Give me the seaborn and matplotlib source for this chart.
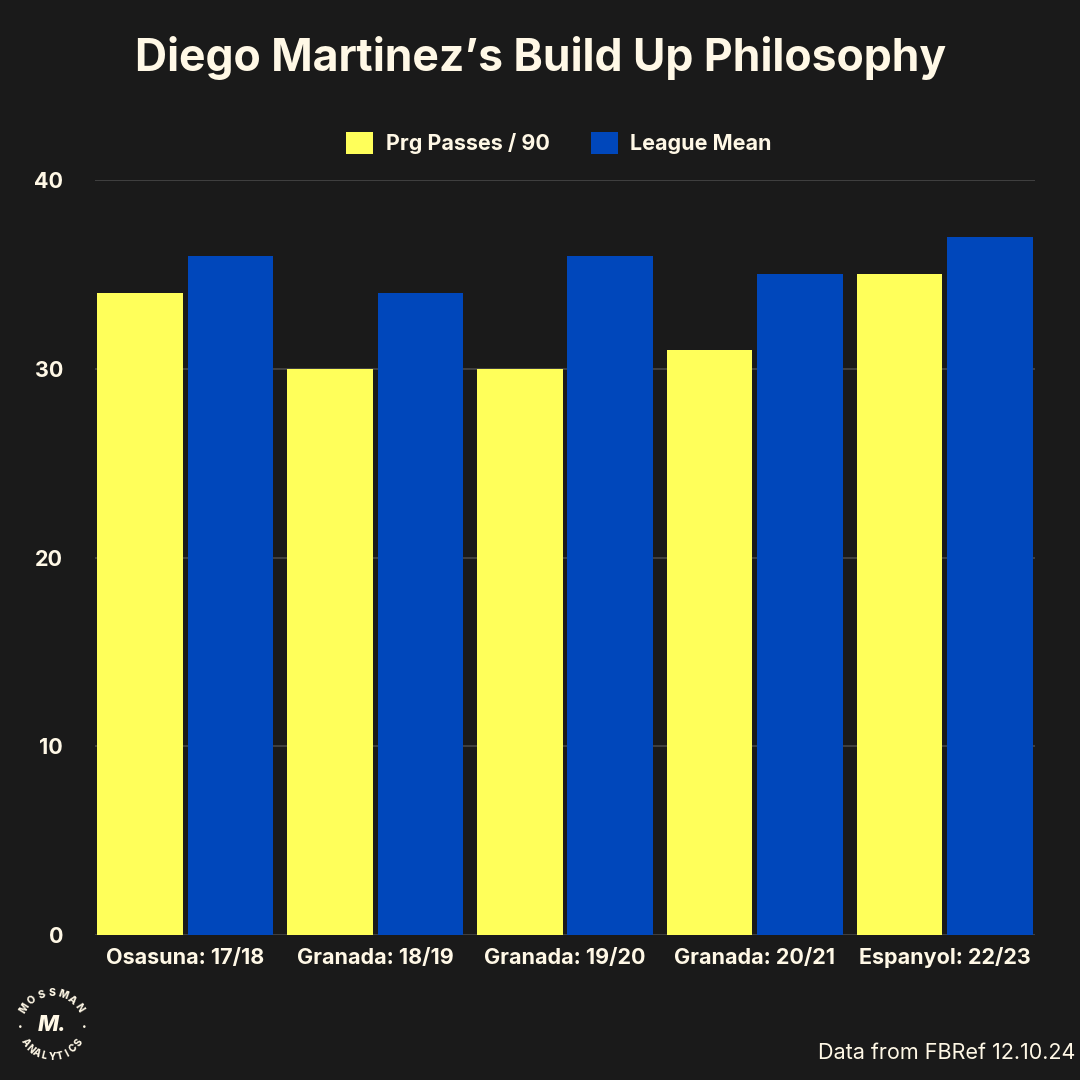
import numpy as np
import pandas as pd
import seaborn as sns
from matplotlib import pyplot as plt
from matplotlib.patches import Patch

# data
seasons = ["Osasuna: 17/18", "Granada: 18/19", "Granada: 19/20", "Granada: 20/21", "Espanyol: 22/23"]
prg_passes = [34, 30, 30, 31, 35]
league_mean = [36, 34, 36, 35, 37]
series_names = ["Prg Passes / 90", "League Mean"]
yticks = [0, 10, 20, 30, 40]

BG = "#1a1a1a"
CREAM = "#fff8e6"
YELLOW = "#ffff5a"
BLUE = "#0047bb"
GRID = "#474747"

df = pd.DataFrame({
    "Season": seasons * 2,
    "Value": prg_passes + league_mean,
    "Series": [series_names[0]] * len(seasons) + [series_names[1]] * len(seasons),
})

sns.set_theme(style="dark")
plt.rcParams["font.family"] = ["Inter", "DejaVu Sans"]

fig = plt.figure(figsize=(10.8, 10.8), dpi=100, facecolor=BG)
ax = fig.add_axes([95 / 1080, 1 - 935 / 1080, 940 / 1080, 755 / 1080])
ax.set_facecolor("none")

sns.barplot(data=df, x="Season", y="Value", hue="Series", order=seasons,
            hue_order=series_names, palette=[YELLOW, BLUE], width=0.95, gap=0.055,
            saturation=1, ax=ax, legend=False, zorder=3, linewidth=0, edgecolor="none")

ax.set_xlim(-0.475, len(seasons) - 1 + 0.475)
ax.set_ylim(0, 40)
ax.set_yticks(yticks)
ax.grid(axis="y", color=GRID, lw=1.2, zorder=0)
ax.grid(axis="x", visible=False)
for s in ax.spines.values():
    s.set_visible(False)
ax.tick_params(axis="both", length=0, colors=CREAM, labelsize=15.5)
ax.tick_params(axis="y", pad=23)
ax.tick_params(axis="x", pad=9)
for lab in ax.get_xticklabels() + ax.get_yticklabels():
    lab.set_fontweight("bold")
    lab.set_color(CREAM)
ax.set_xlabel("")
ax.set_ylabel("")

fig.text(0.5 + 1 / 1080, 1 - 58 / 1080, "Diego Martinez\u2019s Build Up Philosophy", ha="center",
         va="center", color=CREAM, fontsize=32, fontweight="bold")

handles = [Patch(facecolor=YELLOW, edgecolor="none"), Patch(facecolor=BLUE, edgecolor="none")]
leg = fig.legend(handles, series_names, loc="center", bbox_to_anchor=(559 / 1080, 1 - 143 / 1080),
                 ncol=2, frameon=False, handlelength=1.25, handleheight=1.25, handletextpad=0.6,
                 columnspacing=1.9, prop={"weight": "bold", "size": 15.5})
for t in leg.get_texts():
    t.set_color(CREAM)

fig.text(1 - 5 / 1080, 1 - 1053 / 1080, "Data from FBRef 12.10.24", ha="right", va="center",
         color=CREAM, fontsize=15.5)

# circular logo text, bottom left
cx, cy, r = 52 / 1080, 1 - 1025 / 1080, 32 / 1080
top_word = "MOSSMAN"
angles = np.linspace(148, 32, len(top_word))
for ch, a in zip(top_word, angles):
    fig.text(cx + r * np.cos(np.radians(a)), cy + r * np.sin(np.radians(a)), ch, ha="center",
             va="center", rotation=a - 90, color=CREAM, fontsize=7.5, fontweight="heavy")
bottom_word = "ANALYTICS"
angles = np.linspace(214, 326, len(bottom_word))
for ch, a in zip(bottom_word, angles):
    fig.text(cx + r * np.cos(np.radians(a)), cy + r * np.sin(np.radians(a)), ch, ha="center",
             va="center", rotation=a + 90, color=CREAM, fontsize=7, fontweight="heavy")
for a in (183, 357):
    fig.text(cx + r * np.cos(np.radians(a)), cy + r * np.sin(np.radians(a)), "\u2022", ha="center",
             va="center", color=CREAM, fontsize=6)
fig.text(cx, cy, "M.", ha="center", va="center", color=CREAM, fontsize=16,
         fontweight="heavy", style="italic")

fig.savefig("out.png", dpi=100, facecolor=BG)
